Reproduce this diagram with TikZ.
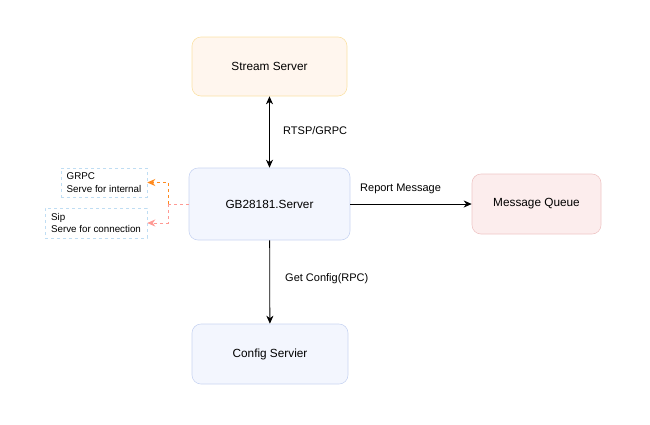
\documentclass[tikz,border=0pt]{standalone}
\usepackage{fontspec}
\setmainfont{Liberation Sans}
\usepackage{xcolor}
\usetikzlibrary{arrows}
\usetikzlibrary{arrows.meta}
\usetikzlibrary{positioning}

\definecolor{gbfill}{HTML}{F3F6FE}
\definecolor{gbline}{HTML}{C9D5F2}
\definecolor{streamfill}{HTML}{FFF6EE}
\definecolor{streamline}{HTML}{FBE2A6}
\definecolor{mqfill}{HTML}{FCEDED}
\definecolor{mqline}{HTML}{EFC6C6}
\definecolor{noteline}{HTML}{BFDDF3}
\definecolor{orangeline}{HTML}{FF8A1E}
\definecolor{pinkline}{HTML}{FF9A94}

\begin{document}
\begin{tikzpicture}[x=1pt, y=-1pt, >={Stealth[length=8pt,width=7pt,inset=2.5pt]}]
          \tikzstyle{server}=[rectangle,rounded corners=9pt,draw,line width=0.6pt,align=center,inner sep=0pt,font=\fontsize{11.8}{14}\selectfont]
          \tikzstyle{note}=[rectangle,draw=noteline,dashed,line width=0.5pt,align=left,inner sep=1.5pt,font=\fontsize{9.8}{12.5}\selectfont]
          \tikzstyle{tag}=[inner sep=0pt,anchor=west,font=\fontsize{11}{13}\selectfont]
          \useasboundingbox (0,0) rectangle (650,424) ;
          \node[server,fill=gbfill,draw=gbline,minimum width=161pt,minimum height=72pt] (gb) at (269.5,204) {GB28181.Server} ;
          \node[server,fill=streamfill,draw=streamline,minimum width=155pt,minimum height=59pt] (stream) at (269.5,66.5) {Stream Server} ;
          \node[server,fill=gbfill,draw=gbline,minimum width=156pt,minimum height=60pt] (config) at (270,354) {Config Servier} ;
          \node[server,fill=mqfill,draw=mqline,minimum width=129pt,minimum height=60pt] (mq) at (536.5,204) {Message Queue} ;
          \node[note,minimum width=86pt,minimum height=29pt] (grpc) at (104,182.5) {GRPC\\Serve for internal} ;
          \node[note,minimum width=102pt,minimum height=30pt] (sip) at (96,223) {Sip\\Serve for connection} ;
          \coordinate (split) at (168,204) ;
          \draw[<->,line width=0.8pt] (stream) -- (gb) ;
          \draw[->,line width=0.8pt] (gb) -- (config) ;
          \draw[->,line width=0.8pt] (gb) -- (mq) ;
          \draw[->,dashed,orangeline,line width=0.8pt] (split) |- (grpc) ;
          \draw[->,dashed,pinkline,line width=0.8pt] (split) |- (sip) ;
          \draw[dashed,pinkline,line width=0.8pt] (gb) -- (split) ;
          \node[tag] (rtsp) at (283,131) {RTSP/GRPC} ;
          \node[tag] (getcfg) at (285,279) {Get Config(RPC)} ;
          \node[tag] (report) at (360,189) {Report Message} ;
        \end{tikzpicture}
\end{document}
